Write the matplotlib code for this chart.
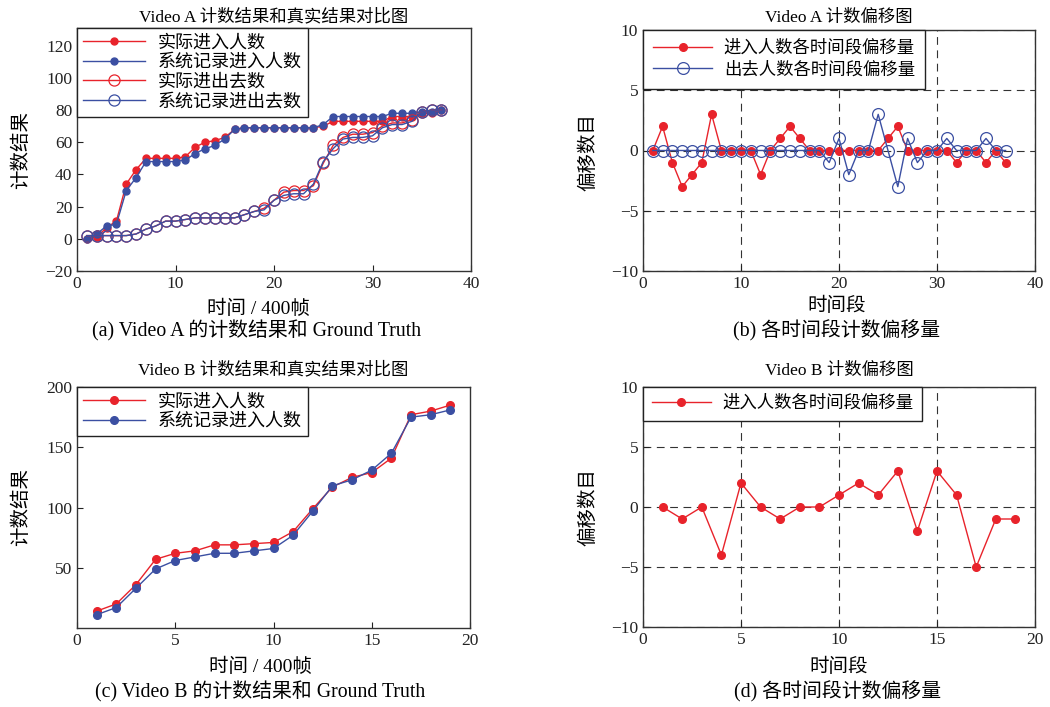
import matplotlib
matplotlib.use("Agg")
import matplotlib.pyplot as plt

plt.rcParams['font.family'] = ['Liberation Serif', 'Noto Sans CJK SC']
plt.rcParams['axes.unicode_minus'] = True

# ---- Video A 计数结果 ----
time_a = list(range(1, 38))
a_in_true = [0, 1, 7, 11, 34, 43, 50, 50, 50, 50, 51, 57, 60, 61, 63, 68, 69, 69, 69, 69,
             69, 69, 69, 69, 70, 73, 73, 73, 73, 73, 73, 76, 76, 76, 78, 78, 80]
a_in_sys = [0, 3, 8, 9, 30, 38, 48, 48, 48, 48, 49, 53, 56, 58, 62, 68, 69, 69, 69, 69,
            69, 69, 69, 69, 71, 76, 76, 76, 76, 76, 76, 78, 78, 78, 79, 79, 80]
a_out_true = [2, 2, 2, 2, 2, 3, 6, 8, 11, 11, 12, 13, 13, 13, 13, 13, 15, 17, 19, 24,
              29, 30, 30, 33, 47, 58, 63, 65, 65, 66, 70, 72, 72, 74, 79, 80, 80]
a_out_sys = [2, 2, 2, 2, 2, 3, 6, 8, 11, 11, 12, 13, 13, 13, 13, 13, 15, 17, 18, 24,
             27, 28, 28, 34, 48, 56, 62, 63, 63, 64, 69, 71, 71, 73, 79, 80, 80]

# ---- Video A 偏移量 ----
a_in_off = [0, 2, -1, -3, -2, -1, 3, 0, 0, 0, 0, -2, 0, 1, 2, 1, 0, 0, 0, 0,
            0, 0, 0, 0, 1, 2, 0, 0, 0, 0, 0, -1, 0, 0, -1, 0, -1]
a_out_off = [0, 0, 0, 0, 0, 0, 0, 0, 0, 0, 0, 0, 0, 0, 0, 0, 0, 0, -1, 1,
             -2, 0, 0, 3, 0, -3, 1, -1, 0, 0, 1, 0, 0, 0, 1, 0, 0]

# ---- Video B ----
time_b = list(range(1, 20))
b_in_true = [14, 20, 36, 57, 62, 64, 69, 69, 70, 71, 80, 99, 117, 125, 129, 141, 177, 180, 185]
b_in_sys = [11, 17, 33, 49, 56, 59, 62, 62, 64, 66, 77, 97, 118, 123, 131, 145, 175, 177, 181]
b_in_off = [0, -1, 0, -4, 2, 0, -1, 0, 0, 1, 2, 1, 3, -2, 3, 1, -5, -1, -1]

RED = '#e8232b'
BLUE = '#3b4fa2'
W, H = 1050, 707

fig = plt.figure(figsize=(10.5, 7.07), dpi=100, facecolor='white')


def box(l, t, r, b):
    return [l / W, (H - b) / H, (r - l) / W, (b - t) / H]


ax1 = fig.add_axes(box(77, 28, 471, 271))
ax2 = fig.add_axes(box(643, 30, 1035, 271))
ax3 = fig.add_axes(box(77, 387, 470, 628))
ax4 = fig.add_axes(box(643, 387, 1035, 627))

tick_fs = 12.5
lab_fs = 14
title_fs = 12.5


def style(ax):
    for s in ax.spines.values():
        s.set_color('#333333')
        s.set_linewidth(1.0)
    ax.tick_params(direction='in', length=4, width=0.8, labelsize=tick_fs,
                   top=False, right=False, colors='#222222')


def place_labels(ax, xl_px, yl_px):
    # label centres given in figure pixels
    bb = ax.get_position()
    l, b, w, h = bb.x0 * W, (1 - bb.y0) * H, bb.width * W, bb.height * H
    ax.xaxis.set_label_coords((xl_px[0] - l) / w, (b - xl_px[1]) / h)
    ax.xaxis.label.set_va('center')
    ax.yaxis.set_label_coords((yl_px[0] - l) / w, (b - yl_px[1]) / h)
    ax.yaxis.label.set_va('center')


def leg(ax, fs, pad, hl, htp, ls):
    lg = ax.legend(loc='upper left', borderaxespad=0, fontsize=fs, frameon=True,
                   fancybox=False, edgecolor='#222222', handlelength=hl,
                   handletextpad=htp, labelspacing=ls, borderpad=pad)
    lg.get_frame().set_linewidth(1.0)
    lg.get_frame().set_alpha(1)


# (a)
ax1.plot(time_a, a_in_true, color=RED, lw=1, marker='o', ms=5, mfc=RED, mec=RED, label='实际进入人数')
ax1.plot(time_a, a_in_sys, color=BLUE, lw=1, marker='o', ms=5, mfc=BLUE, mec=BLUE, label='系统记录进入人数')
ax1.plot(time_a, a_out_true, color=RED, lw=1, marker='o', ms=8, mfc='none', mec=RED, mew=0.9, label='实际进出去数')
ax1.plot(time_a, a_out_sys, color=BLUE, lw=1, marker='o', ms=8, mfc='none', mec=BLUE, mew=0.9, label='系统记录进出去数')
ax1.set_xlim(0, 40)
ax1.set_ylim(-20, 131)
ax1.set_xticks([0, 10, 20, 30, 40])
ax1.set_yticks([-20, 0, 20, 40, 60, 80, 100, 120])
ax1.set_title('Video A 计数结果和真实结果对比图', fontsize=title_fs, pad=5)
ax1.set_xlabel('时间 / 400帧', fontsize=lab_fs)
ax1.set_ylabel('计数结果', fontsize=lab_fs)
place_labels(ax1, (258, 309), (21, 150))
style(ax1)
leg(ax1, 13, 0.35, 3.4, 0.7, 0.15)

# (b)
ax2.plot(time_a, a_in_off, color=RED, lw=1, marker='o', ms=5.5, mfc=RED, mec=RED, label='进入人数各时间段偏移量', zorder=3)
ax2.plot(time_a, a_out_off, color=BLUE, lw=1, marker='o', ms=8.5, mfc='none', mec=BLUE, mew=0.9, label='出去人数各时间段偏移量', zorder=3)
ax2.set_xlim(0, 40)
ax2.set_ylim(-10, 10)
ax2.set_xticks([0, 10, 20, 30, 40])
ax2.set_yticks([-10, -5, 0, 5, 10])
ax2.set_title('Video A 计数偏移图', fontsize=title_fs, pad=6)
ax2.set_xlabel('时间段', fontsize=lab_fs)
ax2.set_ylabel('偏移数目', fontsize=lab_fs)
place_labels(ax2, (837, 306), (588, 152))
ax2.grid(True, linestyle=(0, (7, 5)), color='#333333', lw=0.8)
style(ax2)
leg(ax2, 12.5, 0.6, 3.4, 0.65, 0.3)

# (c)
ax3.plot(time_b, b_in_true, color=RED, lw=1, marker='o', ms=5.5, mfc=RED, mec=RED, label='实际进入人数')
ax3.plot(time_b, b_in_sys, color=BLUE, lw=1, marker='o', ms=5.5, mfc=BLUE, mec=BLUE, label='系统记录进入人数')
ax3.set_xlim(0, 20)
ax3.set_ylim(0, 200)
ax3.set_xticks([0, 5, 10, 15, 20])
ax3.set_yticks([50, 100, 150, 200])
ax3.set_title('Video B 计数结果和真实结果对比图', fontsize=title_fs, pad=9)
ax3.set_xlabel('时间 / 400帧', fontsize=lab_fs)
ax3.set_ylabel('计数结果', fontsize=lab_fs)
place_labels(ax3, (260, 667), (21, 507))
style(ax3)
leg(ax3, 13, 0.35, 3.4, 0.7, 0.15)

# (d)
ax4.plot(time_b, b_in_off, color=RED, lw=1, marker='o', ms=5.5, mfc=RED, mec=RED, label='进入人数各时间段偏移量', zorder=3)
ax4.set_xlim(0, 20)
ax4.set_ylim(-10, 10)
ax4.set_xticks([0, 5, 10, 15, 20])
ax4.set_yticks([-10, -5, 0, 5, 10])
ax4.set_title('Video B 计数偏移图', fontsize=title_fs, pad=9)
ax4.set_xlabel('时间段', fontsize=lab_fs)
ax4.set_ylabel('偏移数目', fontsize=lab_fs)
place_labels(ax4, (839, 667), (588, 507))
ax4.grid(True, linestyle=(0, (7, 5)), color='#333333', lw=0.8)
style(ax4)
leg(ax4, 12.5, 0.5, 3.4, 0.65, 0.15)

cap_fs = 14.3
fig.text(257 / W, 1 - 331 / H, '(a) Video A 的计数结果和 Ground Truth', ha='center', va='center', fontsize=cap_fs)
fig.text(837 / W, 1 - 331 / H, '(b) 各时间段计数偏移量', ha='center', va='center', fontsize=cap_fs)
fig.text(260 / W, 1 - 692 / H, '(c) Video B 的计数结果和 Ground Truth', ha='center', va='center', fontsize=cap_fs)
fig.text(838 / W, 1 - 692 / H, '(d) 各时间段计数偏移量', ha='center', va='center', fontsize=cap_fs)

fig.savefig('out.png', dpi=100, facecolor='white')
